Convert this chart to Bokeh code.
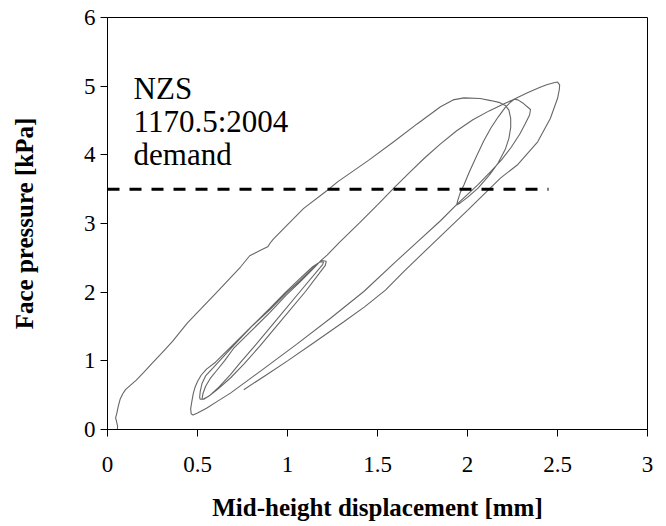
from bokeh.plotting import figure
from bokeh.models import ColumnDataSource, FixedTicker, Range1d, LinearAxis
from bokeh.core.properties import value
from bokeh.embed import file_html
from bokeh.resources import INLINE

# ---- data ----
x_ticks = [0, 0.5, 1, 1.5, 2, 2.5, 3]
x_tick_labels = ["0", "0.5", "1", "1.5", "2", "2.5", "3"]
y_ticks = [0, 1, 2, 3, 4, 5, 6]
y_tick_labels = ["0", "1", "2", "3", "4", "5", "6"]

# mid-height displacement [mm] / face pressure [kPa], one continuous test record
disp_mm = [
    0.03, 0.055, 0.056, 0.05, 0.045, 0.052, 0.06, 0.07, 0.085, 0.1, 0.125, 0.16, 0.2, 0.25, 0.3, 0.36,
    0.443, 0.52, 0.6, 0.68, 0.74, 0.79, 0.85, 0.89, 0.905, 0.92, 0.98, 1.09, 1.22, 1.28, 1.45, 1.59,
    1.72, 1.85, 1.92, 1.98, 2.07, 2.13, 2.18, 2.21,
    2.23, 2.24, 2.24, 2.23, 2.21, 2.17, 2.12, 2.06, 2.0, 1.96, 1.94,
    1.945, 1.96, 1.98, 2.01, 2.05, 2.09, 2.13, 2.17, 2.21, 2.24, 2.26,
    2.28, 2.31, 2.35, 2.345, 2.32, 2.29, 2.24, 2.19, 2.13, 2.06, 1.99, 1.945,
    1.85, 1.72, 1.6, 1.424, 1.239, 1.05, 0.85, 0.683, 0.61, 0.55, 0.5, 0.475, 0.465,
    0.462, 0.468, 0.476, 0.487, 0.5, 0.52, 0.55, 0.6, 0.68, 0.8, 0.9, 0.99, 1.07, 1.13, 1.17, 1.19, 1.215, 1.21,
    1.10, 0.96, 0.845, 0.76, 0.683, 0.61, 0.56, 0.53, 0.515, 0.512,
    0.515, 0.525, 0.545, 0.58, 0.63, 0.7, 0.8, 0.9, 0.99, 1.07, 1.14, 1.18, 1.2, 1.195,
    1.07, 0.94, 0.816, 0.74, 0.683, 0.62, 0.57, 0.535, 0.525,
    0.53, 0.545, 0.57, 0.61, 0.65, 0.7, 0.8, 0.9, 0.99, 1.07, 1.12, 1.165, 1.185,
    1.22, 1.29, 1.4, 1.5, 1.6, 1.683, 1.76, 1.85, 1.94, 2.03, 2.12, 2.2, 2.25, 2.33, 2.4, 2.44, 2.48, 2.5,
    2.512, 2.51, 2.5, 2.46, 2.39, 2.28, 2.183, 2.0, 1.8, 1.65, 1.544, 1.43, 1.313, 1.15, 1.0, 0.88, 0.757,
]
pressure_kpa = [
    0.0, 0.0, 0.05, 0.12, 0.17, 0.24, 0.34, 0.44, 0.52, 0.58, 0.64, 0.72, 0.83, 0.97, 1.11, 1.28,
    1.55, 1.76, 1.98, 2.2, 2.37, 2.53, 2.61, 2.66, 2.72, 2.77, 2.93, 3.22, 3.48, 3.61, 3.92, 4.19,
    4.45, 4.7, 4.8, 4.83, 4.82, 4.79, 4.76, 4.72,
    4.65, 4.53, 4.4, 4.24, 4.08, 3.88, 3.7, 3.52, 3.38, 3.3, 3.27,
    3.33, 3.45, 3.56, 3.75, 3.98, 4.2, 4.39, 4.55, 4.69, 4.77, 4.81,
    4.8, 4.75, 4.66, 4.58, 4.45, 4.3, 4.1, 3.93, 3.76, 3.57, 3.4, 3.29,
    3.04, 2.73, 2.44, 2.01, 1.62, 1.24, 0.85, 0.53, 0.41, 0.31, 0.24, 0.21, 0.23,
    0.3, 0.4, 0.52, 0.62, 0.7, 0.79, 0.88, 0.98, 1.19, 1.5, 1.74, 1.98, 2.17, 2.32, 2.42, 2.46, 2.45, 2.39,
    2.01, 1.57, 1.21, 0.96, 0.75, 0.58, 0.48, 0.44, 0.44, 0.47,
    0.55, 0.67, 0.78, 0.88, 1.02, 1.22, 1.5, 1.76, 2.0, 2.2, 2.37, 2.44, 2.44, 2.4,
    2.01, 1.6, 1.21, 0.98, 0.8, 0.62, 0.5, 0.44, 0.44,
    0.52, 0.63, 0.74, 0.87, 1.0, 1.18, 1.44, 1.7, 1.95, 2.15, 2.28, 2.4, 2.46,
    2.54, 2.73, 3.01, 3.27, 3.54, 3.755, 3.95, 4.16, 4.35, 4.51, 4.64, 4.74, 4.8, 4.9, 4.98, 5.02, 5.05, 5.06,
    5.02, 4.95, 4.82, 4.53, 4.19, 3.86, 3.66, 3.19, 2.69, 2.31, 2.03, 1.79, 1.57, 1.27, 1.0, 0.79, 0.58,
]

demand_kpa = 3.5
demand_disp = [0.0, 2.45]
demand_label = ["NZS", "1170.5:2004", "demand"]
demand_label_x = [0.145, 0.145, 0.145]
demand_label_y = [4.97, 4.49, 4.01]

y_axis_title = "Face pressure [kPa]"
x_axis_title = "Mid-height displacement [mm]"

# ---- figure ----
SERIF = "Liberation Serif"

p = figure(
    frame_width=540, frame_height=412,
    min_border_left=107, min_border_right=19, min_border_top=17, min_border_bottom=97,
    x_range=Range1d(0, 3), y_range=Range1d(0, 6),
    output_backend="svg", toolbar_location=None, tools="",
    background_fill_color="white", border_fill_color="white",
)
p.grid.visible = False
p.outline_line_color = "black"
p.outline_line_width = 1

curve = ColumnDataSource(dict(x=disp_mm, y=pressure_kpa))
p.line("x", "y", source=curve, line_color="#666666", line_width=1.1)

dem = ColumnDataSource(dict(x=demand_disp, y=[demand_kpa] * len(demand_disp)))
p.line("x", "y", source=dem, line_color="black", line_width=3, line_dash="12 10")

lab = ColumnDataSource(dict(x=demand_label_x, y=demand_label_y, t=demand_label))
p.text("x", "y", text="t", source=lab, text_font=value(SERIF), text_font_size="31px",
       text_color="black", text_baseline="alphabetic", text_align="left")

for ax in (p.xaxis[0], p.yaxis[0]):
    ax.axis_line_color = "black"
    ax.axis_line_width = 1
    ax.major_tick_line_color = "black"
    ax.major_tick_out = 7
    ax.major_tick_in = 0
    ax.minor_tick_out = 0
    ax.minor_tick_in = 0
    ax.major_label_text_font = SERIF
    ax.major_label_text_font_size = "23px"
    ax.major_label_text_color = "black"

p.xaxis.ticker = FixedTicker(ticks=x_ticks)
p.xaxis.major_label_overrides = {t: s for t, s in zip(x_ticks, x_tick_labels)}
p.yaxis.ticker = FixedTicker(ticks=y_ticks)
p.yaxis.major_label_overrides = {t: s for t, s in zip(y_ticks, y_tick_labels)}

p.xaxis.axis_label = x_axis_title
p.xaxis.axis_label_text_font = SERIF
p.xaxis.axis_label_text_font_size = "25px"
p.xaxis.axis_label_text_font_style = "bold"
p.xaxis.axis_label_text_color = "black"
p.xaxis.major_label_standoff = 20
p.xaxis.axis_label_standoff = 19
p.yaxis.major_label_standoff = 5

# y-axis title carried by a bare outer axis (keeps it well out at the left edge)
title_axis = LinearAxis(
    bounds=(0, 4.54), ticker=FixedTicker(ticks=[]),
    axis_line_color=None, major_tick_out=0, major_tick_in=0,
    minor_tick_out=0, minor_tick_in=0,
    axis_label=y_axis_title, axis_label_standoff=43,
    axis_label_text_font=SERIF, axis_label_text_font_size="25px",
    axis_label_text_font_style="bold", axis_label_text_color="black",
)
p.add_layout(title_axis, "left")

open("out.html", "w").write(file_html(p, INLINE))
